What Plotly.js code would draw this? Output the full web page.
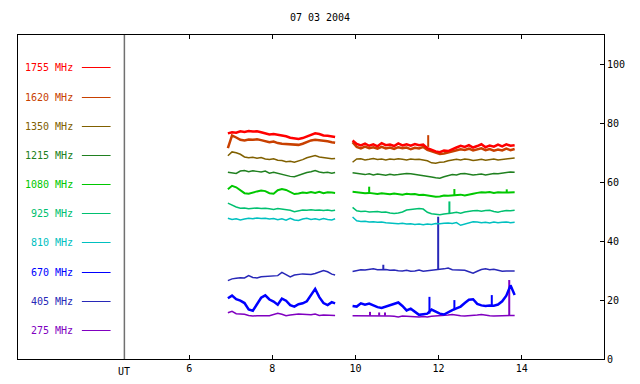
<!DOCTYPE html>
<html><head><meta charset="utf-8">
<script src="https://cdn.plot.ly/plotly-3.0.1.min.js"></script>
<style>html,body{margin:0;padding:0;background:#fff}#chart{width:640px;height:384px}</style>
</head><body><div id="chart"></div>
<script>
// UT hours: first block, gap (null), second block
const timeUT = [6.93,7.03,7.13,7.23,7.33,7.43,7.53,7.63,7.73,7.83,
  7.93,8.03,8.13,8.23,8.33,8.43,8.53,8.63,8.73,8.83,
  8.93,9.03,9.13,9.23,9.33,9.43,9.51,
  null,
  9.93,10.03,10.13,10.23,10.33,10.43,10.53,10.63,10.73,10.83,
  10.93,11.03,11.13,11.23,11.33,11.43,11.53,11.63,11.73,11.83,
  11.93,12.03,12.13,12.23,12.33,12.43,12.53,12.63,12.73,12.83,
  12.93,13.03,13.13,13.23,13.33,13.43,13.53,13.63,13.73,13.83];

const labels = ["1755 MHz","1620 MHz","1350 MHz","1215 MHz","1080 MHz","925 MHz","810 MHz","670 MHz","405 MHz","275 MHz"];
const colors = ["#ff0000","#c84000","#806000","#208020","#00c800","#00c070","#00c0c0","#0000ff","#2828b8","#8000c0"];

const f1755 = [76.6,77.0,76.8,77.3,77.1,77.4,77.2,77.3,77.0,76.6,
  76.2,76.4,76.1,76.0,75.6,75.1,74.8,74.7,75.0,75.6,
  76.1,76.6,76.4,75.9,75.8,75.5,75.4,
  null,
  74.2,73.0,72.5,73.1,72.4,72.9,72.2,73.3,72.6,72.8,
  72.3,73.2,72.5,72.9,72.4,73.0,72.6,72.8,71.6,71.0,
  70.5,70.2,70.8,70.6,71.3,71.8,72.4,72.0,72.6,71.8,
  72.3,72.9,71.9,72.5,72.1,72.8,72.2,72.9,72.4,72.6];
const f1620 = [71.6,75.9,75.2,74.4,74.2,74.5,74.4,74.6,74.3,73.9,
  73.6,73.8,73.3,73.1,73.0,72.8,72.6,72.7,73.1,73.6,
  74.2,74.4,74.3,74.0,73.9,73.6,73.4,
  null,
  73.6,72.0,71.5,72.1,71.6,71.9,71.4,72.0,71.5,71.8,
  71.3,71.9,71.6,71.8,71.2,71.7,71.5,72.0,71.0,70.6,
  70.0,69.6,69.8,70.1,70.5,70.9,71.2,71.0,71.4,70.8,
  71.2,71.5,70.9,71.3,70.7,71.1,70.8,71.4,70.9,71.3];
const f1350 = [69.0,70.3,70.0,69.5,68.6,68.3,68.5,68.2,68.4,67.9,
  67.7,68.0,67.5,67.4,67.0,67.1,66.8,67.2,67.7,68.3,
  68.8,69.1,68.6,68.4,68.2,68.0,68.1,
  null,
  66.8,67.9,68.0,67.6,67.8,68.1,67.7,67.9,67.6,67.9,
  67.7,68.0,67.8,67.6,67.9,67.7,67.8,67.5,67.3,66.6,
  66.5,66.8,66.9,67.3,67.5,67.8,67.6,67.9,67.7,67.4,
  67.6,67.8,67.5,67.7,67.9,67.6,67.8,68.0,68.1,68.2];
const f1215 = [63.4,63.2,63.0,63.8,64.0,63.6,63.9,63.7,63.5,63.8,
  63.1,63.4,63.0,62.6,62.3,62.0,61.9,62.4,62.8,63.3,
  63.6,64.0,63.5,63.2,63.4,63.1,63.3,
  null,
  63.2,63.0,62.7,62.6,62.9,62.5,62.8,62.6,62.4,62.7,
  62.5,62.6,62.8,63.0,62.9,62.7,62.6,62.4,62.1,61.8,
  61.5,61.4,61.9,62.3,62.6,62.5,62.9,63.0,62.7,62.5,
  62.6,62.8,62.5,62.7,63.0,62.9,63.1,63.4,63.5,63.4];
const f1080 = [57.6,58.8,58.3,57.4,56.3,56.1,56.6,56.9,57.2,57.0,
  56.3,56.1,57.3,57.7,57.4,56.6,56.0,56.2,56.5,56.4,
  56.7,56.4,56.8,56.3,56.6,56.5,56.4,
  null,
  56.8,56.6,56.5,56.3,56.4,56.2,56.0,56.3,56.1,55.9,
  56.2,56.0,55.8,56.1,55.9,56.0,55.7,55.8,55.6,55.3,
  55.1,55.2,55.5,55.4,55.6,55.6,55.8,55.5,55.7,56.1,
  56.4,56.6,56.5,56.7,56.4,56.6,56.5,56.6,56.6,56.6];
const f925 = [52.9,52.2,51.6,51.2,51.3,51.0,51.2,51.3,51.1,51.2,
  51.0,50.8,51.1,50.9,50.7,50.5,50.0,50.3,50.6,50.5,
  50.7,50.5,50.6,50.4,50.6,50.3,50.5,
  null,
  51.5,50.3,50.1,50.2,49.9,50.0,50.1,49.8,49.9,49.6,
  49.4,49.6,49.9,50.6,50.8,51.0,51.1,50.9,49.8,49.3,
  49.1,49.0,49.2,49.3,49.6,49.8,49.5,49.9,50.2,50.3,
  50.4,50.2,50.4,50.5,50.1,49.8,50.2,50.4,50.3,50.5];
const f810 = [47.8,47.4,47.6,47.2,47.5,47.8,47.6,47.9,47.7,47.8,
  47.5,47.7,47.3,47.6,47.1,47.8,47.2,47.0,47.5,47.8,
  47.4,47.6,47.3,47.7,47.4,47.2,47.6,
  null,
  48.2,46.9,46.7,46.8,46.5,46.6,46.4,46.5,46.3,46.2,
  46.0,45.9,46.1,45.8,45.9,45.7,45.8,45.6,45.8,45.7,
  46.0,45.9,46.1,46.2,46.0,46.3,45.4,45.8,46.3,46.6,
  46.5,46.3,46.4,46.2,46.5,46.3,46.4,46.5,46.3,46.4];
const f670 = [20.6,21.5,20.3,19.8,19.0,16.8,16.4,18.6,20.8,21.6,
  20.2,19.5,18.4,20.5,19.8,18.3,17.8,18.6,18.9,19.6,
  21.5,23.8,21.0,19.0,18.3,19.3,18.9,
  null,
  18.0,17.8,18.9,18.4,18.8,18.1,17.6,17.3,17.8,18.3,
  18.9,19.2,18.0,16.5,17.1,16.0,15.0,15.2,15.4,16.8,
  16.0,15.4,15.1,15.9,16.6,17.2,17.8,19.0,20.1,20.3,
  18.7,18.2,18.0,18.2,18.1,18.5,19.6,21.5,25.0,21.7];
const f405 = [26.6,27.2,27.4,27.6,27.5,28.3,27.7,27.5,27.9,28.0,
  28.2,28.4,28.3,29.4,28.6,27.9,28.5,28.7,28.9,28.8,
  28.7,29.0,29.4,30.0,29.6,28.8,28.5,
  null,
  29.7,30.1,30.3,30.2,30.4,30.6,30.3,30.4,30.4,30.1,
  30.2,30.0,29.9,30.1,29.8,29.9,30.2,29.8,30.0,30.3,
  30.4,30.5,30.6,30.9,30.3,30.2,30.0,30.1,29.6,29.1,
  29.8,30.4,30.6,30.3,30.5,30.1,29.8,29.9,30.0,29.9];
const f275 = [15.7,16.2,15.4,15.3,15.2,14.8,14.6,14.7,14.8,14.7,
  14.7,15.0,15.5,15.2,14.7,14.9,15.2,15.3,15.2,15.1,
  15.0,15.3,14.8,14.9,14.8,14.9,14.8,
  null,
  14.7,14.7,14.8,14.7,14.7,14.7,14.8,14.7,14.7,14.6,
  14.5,14.3,14.6,14.5,14.3,14.2,14.3,14.4,14.3,14.5,
  14.6,14.5,14.7,14.9,15.1,14.8,14.7,14.6,14.7,14.6,
  14.9,15.1,14.8,14.7,14.6,14.7,14.7,14.8,14.8,14.8];

// Short bursts (single-sample spikes): series index, UT, level before, peak level
const spikeSeries = [1, 4, 4, 4, 5, 8, 8, 7, 7, 7, 9, 9, 9, 9];
const spikeUT     = [11.75, 10.33, 12.38, 13.64, 12.26, 10.67, 11.99, 11.78, 12.38, 13.28, 10.35, 10.57, 10.71, 13.70];
const spikeBase   = [72.0, 56.4, 55.6, 56.6, 49.2, 30.4, 30.4, 15.4, 16.6, 18.2, 14.7, 14.7, 14.7, 14.8];
const spikePeak   = [76.0, 58.5, 57.7, 57.6, 53.5, 32.0, 48.3, 21.1, 20.0, 21.7, 16.0, 15.8, 15.8, 26.8];

const series = [f1755,f1620,f1350,f1215,f1080,f925,f810,f670,f405,f275];
const widths = [2.5,2.5,1.5,1.5,2,1.5,1.5,2.5,1.5,1.5];
const xTicks = [6,8,10,12,14];
const yTicks = [0,20,40,60,80,100];

const traces = [];
for (let i = series.length - 1; i >= 0; i--) {
  traces.push({x: timeUT, y: series[i], type: 'scatter', mode: 'lines', name: labels[i],
    connectgaps: false, line: {color: colors[i], width: widths[i]}});
  const sx = [], sy = [];
  spikeSeries.forEach((s, k) => {
    if (s === i) { sx.push(spikeUT[k], spikeUT[k], null); sy.push(spikeBase[k], spikePeak[k], null); }
  });
  if (sx.length) traces.push({x: sx, y: sy, type: 'scatter', mode: 'lines', showlegend: false,
    line: {color: colors[i], width: 2}});
}

const font = {family: 'DejaVu Sans Mono, monospace', size: 10, color: '#000'};
const rowPx = [67.5, 97.5, 126.5, 155.5, 184.5, 213.5, 242.5, 272.5, 301.5, 330.5];
const annotations = [];
const shapes = [];
labels.forEach((lab, i) => {
  const yp = (359 - rowPx[i]) / 324;
  annotations.push({x: 0.0975, xref: 'paper', y: yp, yref: 'paper', text: lab, showarrow: false,
    xanchor: 'right', yanchor: 'middle', font: {family: font.family, size: 10, color: colors[i]}});
  shapes.push({type: 'line', xref: 'paper', yref: 'paper', x0: 0.109, x1: 0.158, y0: yp, y1: yp,
    line: {color: colors[i], width: 1}});
});
shapes.push({type: 'line', xref: 'x', yref: 'paper', x0: 4.44, x1: 4.44, y0: 0, y1: 1,
  line: {color: '#707070', width: 1.5}});
annotations.push({x: 4.44, xref: 'x', y: 0, yref: 'paper', yshift: -12, text: 'UT', showarrow: false,
  xanchor: 'center', yanchor: 'middle', font: font});

const layout = {
  width: 640, height: 384,
  margin: {l: 18, r: 36, t: 35, b: 25},
  paper_bgcolor: '#fff', plot_bgcolor: '#fff',
  showlegend: false,
  font: font,
  title: {text: '07 03 2004', x: 0.5, xref: 'container', y: 0.955, yref: 'container',
    xanchor: 'center', yanchor: 'middle', font: font},
  xaxis: {range: [1.88, 15.98], tickvals: xTicks, ticktext: xTicks.map(String), ticks: 'inside',
    ticklen: 4, tickcolor: '#000', showline: true, linecolor: '#000', linewidth: 1,
    mirror: 'ticks', showgrid: false, zeroline: false, tickfont: font},
  yaxis: {range: [0, 110], side: 'right', tickvals: yTicks, ticks: 'inside', ticklen: 4,
    tickcolor: '#000', showline: true, linecolor: '#000', linewidth: 1, mirror: true,
    showgrid: false, zeroline: false, tickfont: font},
  annotations: annotations,
  shapes: shapes
};
Plotly.newPlot('chart', traces, layout, {staticPlot: true, displayModeBar: false});
</script></body></html>
